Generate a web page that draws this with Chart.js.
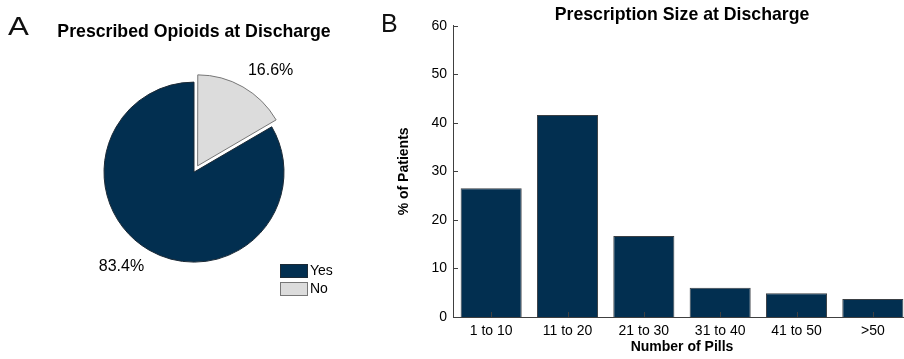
<!DOCTYPE html>
<html>
<head>
<meta charset="utf-8">
<script src="https://cdn.jsdelivr.net/npm/chart.js@4/dist/chart.umd.min.js"></script>
<style>
html,body{margin:0;padding:0;background:#fff;overflow:hidden;width:904px;height:359px;}
#wrap{position:relative;width:904px;height:359px;overflow:hidden;background:#fff;}
#pieBox{position:absolute;left:0;top:0;width:388px;height:359px;}
#barBox{position:absolute;left:380px;top:0;width:604px;height:359px;}
.panel{position:absolute;font-family:"Liberation Sans",Arial,sans-serif;font-size:25px;line-height:25px;color:#111;}
</style>
</head>
<body>
<div id="wrap">
  <div id="pieBox"><canvas id="pie" width="388" height="359"></canvas></div>
  <div id="barBox"><canvas id="bar" width="604" height="359"></canvas></div>
  <div class="panel" style="left:8px;top:14px;transform:scaleX(1.25);transform-origin:left top;">A</div>
  <div class="panel" style="left:381px;top:11px;">B</div>
</div>
<script>
// ---- data ----
const pieLabels = ['Yes', 'No'];
const pieValues = [83.4, 16.6];
const barCategories = ['1 to 10', '11 to 20', '21 to 30', '31 to 40', '41 to 50', '>50'];
const barValues = [26.5, 41.6, 16.7, 6.0, 4.9, 3.7];
const yTicks = [0, 10, 20, 30, 40, 50, 60];

// ---- styles ----
const NAVY = '#022f50';
const GREY = '#dcdcdc';
const AXIS = '#404040';
const FONT = '"Liberation Sans", Arial, Helvetica, sans-serif';
const pieFill = [NAVY, GREY];
const pieEdge = ['#1c2a36', '#777777'];
const pieOffset = [0, 29];

Chart.defaults.font.family = FONT;
Chart.defaults.color = '#000';

function arcShift(arc) {
  const off = ((arc.options && arc.options.offset) || 0) / 4;
  const circ = arc.endAngle - arc.startAngle;
  const fix = 1 - Math.sin(Math.min(Math.PI, circ || 0));
  return off + off * fix;
}

const pieLabelPlugin = {
  id: 'pieLabels',
  afterDatasetsDraw(chart) {
    const ctx = chart.ctx;
    const meta = chart.getDatasetMeta(0);
    ctx.save();
    ctx.font = '16px ' + FONT;
    ctx.fillStyle = '#000';
    meta.data.forEach((arc, i) => {
      const p = arc.getProps(['x', 'y', 'startAngle', 'endAngle', 'outerRadius'], true);
      const mid = (p.startAngle + p.endAngle) / 2;
      const c = Math.cos(mid), s = Math.sin(mid);
      const R = p.outerRadius + arcShift(arc) + 10;
      ctx.textAlign = c >= 0 ? 'left' : 'right';
      ctx.textBaseline = s < 0 ? 'bottom' : 'top';
      ctx.fillText(pieValues[i].toFixed(1) + '%', p.x + c * R, p.y + s * R);
    });
    ctx.restore();
  }
};

const pieLegendPlugin = {
  id: 'pieLegend',
  afterDraw(chart) {
    const ctx = chart.ctx;
    ctx.save();
    ctx.font = '14px ' + FONT;
    ctx.textAlign = 'left';
    ctx.textBaseline = 'middle';
    ctx.lineWidth = 1;
    pieLabels.forEach((lab, i) => {
      const y0 = 264 + i * 18;
      ctx.fillStyle = pieFill[i];
      ctx.fillRect(280.5, y0 + 0.5, 27, 13);
      ctx.strokeStyle = pieEdge[i];
      ctx.strokeRect(280.5, y0 + 0.5, 27, 13);
      ctx.fillStyle = '#000';
      ctx.fillText(lab, 310, y0 + 7.5);
    });
    ctx.restore();
  }
};

const total = pieValues.reduce((a, b) => a + b, 0);
new Chart(document.getElementById('pie'), {
  type: 'pie',
  data: {
    labels: pieLabels,
    datasets: [{
      data: pieValues,
      backgroundColor: pieFill,
      borderColor: pieEdge,
      borderWidth: 1,
      offset: pieOffset,
      radius: 90
    }]
  },
  options: {
    responsive: false,
    animation: false,
    events: [],
    rotation: 360 * pieValues[1] / total,
    layout: { padding: { top: 0, bottom: 57, left: 0, right: 0 } },
    plugins: {
      legend: { display: false },
      tooltip: { enabled: false },
      title: {
        display: true,
        text: 'Prescribed Opioids at Discharge',
        color: '#000',
        font: { size: 17.7, weight: 'bold' },
        padding: { top: 21, bottom: 0 }
      }
    }
  },
  plugins: [pieLabelPlugin, pieLegendPlugin]
});

const insideTicks = {
  id: 'insideTicks',
  afterDatasetsDraw(chart) {
    const { ctx, chartArea, scales: { x, y } } = chart;
    ctx.save();
    ctx.strokeStyle = AXIS;
    ctx.lineWidth = 1;
    ctx.beginPath();
    yTicks.forEach(v => {
      const py = Math.round(y.getPixelForValue(v)) + 0.5;
      ctx.moveTo(chartArea.left, py);
      ctx.lineTo(chartArea.left + 5, py);
    });
    barCategories.forEach((c, i) => {
      const px = Math.round(x.getPixelForValue(i)) + 0.5;
      ctx.moveTo(px, chartArea.bottom);
      ctx.lineTo(px, chartArea.bottom - 5);
    });
    ctx.stroke();
    ctx.restore();
  }
};

new Chart(document.getElementById('bar'), {
  type: 'bar',
  data: {
    labels: barCategories,
    datasets: [{
      data: barValues,
      yAxisID: 'y',
      backgroundColor: NAVY,
      borderColor: '#3a3f44',
      borderWidth: 1,
      borderSkipped: 'bottom',
      barPercentage: 0.8,
      categoryPercentage: 1
    }]
  },
  options: {
    responsive: false,
    animation: false,
    events: [],
    layout: { padding: 0 },
    plugins: {
      legend: { display: false },
      tooltip: { enabled: false },
      title: {
        display: true,
        text: 'Prescription Size at Discharge',
        color: '#000',
        font: { size: 17.7, weight: 'bold' },
        padding: { top: 4.5, bottom: 0 }
      }
    },
    scales: {
      x: {
        offset: true,
        grid: { display: false, drawTicks: false },
        border: { display: true, color: AXIS, width: 1 },
        ticks: { font: { size: 14 }, color: '#000', padding: 6, maxRotation: 0 },
        title: { display: true, text: 'Number of Pills', color: '#000', font: { size: 14, weight: 'bold' }, padding: { top: 0, bottom: 3 } },
        afterFit: s => { s.height = 42; }
      },
      y: {
        min: 0,
        max: 60,
        grid: { display: false, drawTicks: false },
        border: { display: true, color: AXIS, width: 1 },
        ticks: { stepSize: 10, font: { size: 14 }, color: '#000', padding: 6 },
        afterBuildTicks: s => { s.ticks = yTicks.map(v => ({ value: v })); },
        title: { display: true, text: '% of Patients', color: '#000', font: { size: 14, weight: 'bold' }, padding: { top: 15.6, bottom: 0 } },
        afterFit: s => { s.width = 73; }
      },
      yRight: {
        position: 'right',
        min: 0,
        max: 60,
        grid: { display: false, drawTicks: false },
        border: { display: false },
        ticks: { display: false },
        afterFit: s => { s.width = 73; }
      }
    }
  },
  plugins: [insideTicks]
});
</script>
</body>
</html>
